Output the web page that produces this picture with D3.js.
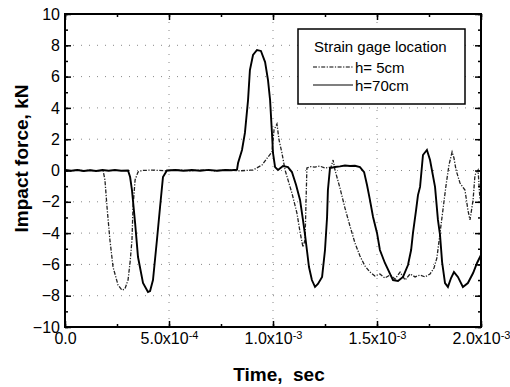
<!DOCTYPE html>
<html>
<head>
<meta charset="utf-8">
<script src="https://cdn.jsdelivr.net/npm/d3@7/dist/d3.min.js"></script>
<style>
  body { margin: 0; background: #fff; }
  text { font-family: "Liberation Sans", Arial, sans-serif; fill: #000; }
</style>
</head>
<body>
<svg id="chart" width="510" height="387"></svg>
<script>
// h = 5 cm gauge (dash-dot)
var timeH5 = [0, 3.0e-5, 6.0e-5, 9.0e-5, 1.2e-4, 1.5e-4, 1.83e-4, 1.92e-4, 2.02e-4, 2.16e-4, 2.31e-4, 2.55e-4,
  2.74e-4, 2.88e-4, 3.03e-4, 3.13e-4, 3.22e-4, 3.27e-4, 3.37e-4, 3.51e-4, 3.70e-4, 4.2e-4, 4.8e-4, 5.4e-4,
  6.0e-4, 6.6e-4, 7.2e-4, 7.8e-4, 8.4e-4, 8.9e-4, 9.04e-4, 9.47e-4, 9.76e-4, 9.95e-4, 1.005e-3, 1.019e-3,
  1.029e-3, 1.043e-3, 1.058e-3, 1.072e-3, 1.091e-3, 1.115e-3, 1.130e-3, 1.144e-3, 1.154e-3, 1.159e-3,
  1.163e-3, 1.182e-3, 1.202e-3, 1.225e-3, 1.25e-3, 1.279e-3, 1.289e-3, 1.298e-3, 1.322e-3, 1.346e-3,
  1.370e-3, 1.394e-3, 1.418e-3, 1.442e-3, 1.466e-3, 1.49e-3, 1.514e-3, 1.538e-3, 1.563e-3, 1.587e-3,
  1.611e-3, 1.635e-3, 1.659e-3, 1.683e-3, 1.707e-3, 1.731e-3, 1.755e-3, 1.774e-3, 1.788e-3, 1.803e-3,
  1.817e-3, 1.832e-3, 1.846e-3, 1.861e-3, 1.870e-3, 1.880e-3, 1.899e-3, 1.923e-3, 1.937e-3, 1.947e-3,
  1.962e-3, 1.971e-3, 1.986e-3, 1.995e-3];
var forceH5 = [0.02, -0.02, 0.03, -0.02, 0.02, -0.02, 0, -0.6, -2.33, -4.44, -6.17, -7.32,
  -7.64, -7.57, -7.0, -5.85, -4.44, -2.33, -0.6, -0.1, 0, 0.03, -0.02, 0.03,
  -0.02, 0.03, -0.02, 0.03, -0.02, 0.02, 0.03, 0.35, 0.86, 1.18, 2.6, 2.97,
  1.95, 1.12, 0.03, -0.6, -1.44, -2.72, -3.93, -4.89, -4.44, -1.89,
  0.16, 0.25, 0.22, 0.28, 0.16, 0.22, 0.67, 0.03, -1.12, -2.4,
  -3.55, -4.63, -5.46, -6.1, -6.49, -6.74, -6.61, -6.87, -6.68, -6.93,
  -6.49, -7.0, -6.61, -6.8, -6.68, -6.8, -6.61, -6.23, -5.59, -3.99,
  -2.52, -0.93, 0.35, 1.18, 0.8, 0.03, -0.8, -1.25, -2.52, -3.16,
  -1.88, -0.29, 0.03, -1.88];

// h = 70 cm gauge (solid)
var timeH70 = [0, 3.0e-5, 6.0e-5, 9.0e-5, 1.2e-4, 1.5e-4, 1.8e-4, 2.1e-4, 2.4e-4, 2.7e-4, 3.03e-4, 3.13e-4,
  3.22e-4, 3.37e-4, 3.51e-4, 3.75e-4, 3.99e-4, 4.09e-4, 4.23e-4, 4.42e-4, 4.57e-4, 4.71e-4, 4.90e-4,
  5.3e-4, 5.7e-4, 6.1e-4, 6.5e-4, 6.9e-4, 7.3e-4, 7.7e-4, 8.0e-4, 8.27e-4, 8.32e-4, 8.51e-4, 8.65e-4,
  8.80e-4, 8.89e-4, 9.04e-4, 9.23e-4, 9.42e-4, 9.62e-4, 9.76e-4, 9.86e-4, 9.95e-4, 1.0e-3, 1.01e-3,
  1.024e-3, 1.048e-3, 1.072e-3, 1.091e-3, 1.111e-3, 1.130e-3, 1.144e-3, 1.154e-3, 1.163e-3, 1.173e-3,
  1.187e-3, 1.202e-3, 1.216e-3, 1.236e-3, 1.25e-3, 1.26e-3, 1.264e-3, 1.274e-3, 1.298e-3, 1.322e-3,
  1.346e-3, 1.370e-3, 1.394e-3, 1.418e-3, 1.438e-3, 1.452e-3, 1.466e-3, 1.481e-3, 1.50e-3, 1.514e-3,
  1.538e-3, 1.577e-3, 1.601e-3, 1.625e-3, 1.649e-3, 1.664e-3, 1.673e-3, 1.688e-3, 1.697e-3, 1.707e-3,
  1.721e-3, 1.740e-3, 1.755e-3, 1.779e-3, 1.793e-3, 1.803e-3, 1.813e-3, 1.827e-3, 1.841e-3, 1.856e-3,
  1.870e-3, 1.889e-3, 1.913e-3, 1.937e-3, 1.962e-3, 1.981e-3, 2.0e-3];
var forceH70 = [0.03, -0.02, 0.03, -0.03, 0.02, -0.03, 0.03, -0.02, 0.03, -0.02, 0, -0.42,
  -1.25, -3.35, -5.53, -7.19, -7.76, -7.7, -7.0, -4.44, -2.33, -0.42, 0,
  0.03, -0.02, 0.03, -0.02, 0.04, -0.02, 0.03, 0.02, 0.05, 0.48, 1.31, 2.4,
  4.5, 6.42, 7.38, 7.7, 7.64, 6.93, 5.78, 4.5, 2.4, 1.12, 0.22,
  0.03, 0.29, 0.22, -0.1, -0.93, -1.88, -3.16, -4.12, -5.08, -6.17,
  -7.0, -7.44, -7.25, -6.8, -5.08, -2.97, -1.25, 0.16, 0.22, 0.26,
  0.32, 0.29, 0.3, 0.22, -0.1, -0.93, -1.88, -2.97, -3.99, -5.08,
  -5.91, -7.0, -7.06, -6.8, -6.04, -5.08, -3.99, -2.52, -1.57, -1.05,
  0.99, 1.31, 0.67, -1.05, -3.16, -4.12, -5.85, -7.19, -7.44, -6.87,
  -6.49, -6.8, -7.44, -7.19, -6.55, -5.91, -5.4];

var xMajor = [0, 5e-4, 1e-3, 1.5e-3, 2e-3];
var xMantissa = ["0.0", "5.0", "1.0", "1.5", "2.0"];
var xExponent = ["", "-4", "-3", "-3", "-3"];
var yMajor = [-10, -8, -6, -4, -2, 0, 2, 4, 6, 8, 10];

var legendNames = ["h= 5cm", "h=70cm"];

var svg = d3.select("#chart");
var pL = 65, pR = 481, pT = 14, pB = 327;

var x = d3.scaleLinear().domain([0, 2e-3]).range([pL, pR]);
var y = d3.scaleLinear().domain([-10, 10]).range([pB, pT]);

// dotted grid
var grid = svg.append("g");
grid.selectAll("line.gx").data(xMajor.slice(1, -1)).enter().append("line")
  .attr("x1", d => x(d)).attr("x2", d => x(d)).attr("y1", pT).attr("y2", pB)
  .attr("stroke", "#888").attr("stroke-width", 1).attr("stroke-dasharray", "1,7");
grid.selectAll("line.gy").data(yMajor.slice(1, -1)).enter().append("line")
  .attr("y1", d => y(d)).attr("y2", d => y(d)).attr("x1", pL).attr("x2", pR)
  .attr("stroke", "#888").attr("stroke-width", 1).attr("stroke-dasharray", "1,7");

// data lines
var line = d3.line().x(d => x(d[0])).y(d => y(d[1]));
svg.append("path")
  .datum(d3.zip(timeH5, forceH5))
  .attr("d", line).attr("fill", "none")
  .attr("stroke", "#222").attr("stroke-width", 1.3)
  .attr("stroke-dasharray", "4,1.5,1.2,1.5");
svg.append("path")
  .datum(d3.zip(timeH70, forceH70))
  .attr("d", line).attr("fill", "none")
  .attr("stroke", "#000").attr("stroke-width", 1.9);

// axes with inward ticks
function styleAxis(g) {
  g.select(".domain").remove();
  g.selectAll("line").attr("stroke", "#000").attr("stroke-width", 1.5);
}
var xMinor = d3.range(0, 2.0001e-3, 2.5e-4);
var yMinor = d3.range(-10, 10.001, 1);

svg.append("g").attr("transform", "translate(0," + pB + ")")
  .call(d3.axisBottom(x).tickValues(xMinor).tickSize(-3).tickFormat("")).call(styleAxis);
svg.append("g").attr("transform", "translate(0," + pT + ")")
  .call(d3.axisTop(x).tickValues(xMinor).tickSize(-3).tickFormat("")).call(styleAxis);
svg.append("g").attr("transform", "translate(" + pL + ",0)")
  .call(d3.axisLeft(y).tickValues(yMinor).tickSize(-3).tickFormat("")).call(styleAxis);
svg.append("g").attr("transform", "translate(" + pR + ",0)")
  .call(d3.axisRight(y).tickValues(yMinor).tickSize(-3).tickFormat("")).call(styleAxis);

var xAxis = svg.append("g").attr("transform", "translate(0," + pB + ")")
  .call(d3.axisBottom(x).tickValues(xMajor).tickSizeInner(-6).tickSizeOuter(0).tickPadding(6)
    .tickFormat((d, i) => xMantissa[i]))
  .call(styleAxis);
xAxis.selectAll("text")
  .attr("font-size", 16).attr("font-family", "Liberation Sans, Arial, sans-serif")
  .each(function (d, i) {
    if (!xExponent[i]) return;
    var t = d3.select(this);
    t.text(xMantissa[i] + "x10");
    t.append("tspan").attr("dy", "-0.45em").attr("font-size", 11).text(xExponent[i]);
  });

svg.append("g").attr("transform", "translate(0," + pT + ")")
  .call(d3.axisTop(x).tickValues(xMajor).tickSizeInner(-6).tickSizeOuter(0).tickFormat(""))
  .call(styleAxis);

var yAxis = svg.append("g").attr("transform", "translate(" + pL + ",0)")
  .call(d3.axisLeft(y).tickValues(yMajor).tickSizeInner(-6).tickSizeOuter(0).tickPadding(5)
    .tickFormat(d3.format("d")))
  .call(styleAxis);
yAxis.selectAll("text").attr("font-size", 16).attr("font-family", "Liberation Sans, Arial, sans-serif");

svg.append("g").attr("transform", "translate(" + pR + ",0)")
  .call(d3.axisRight(y).tickValues(yMajor).tickSizeInner(-6).tickSizeOuter(0).tickFormat(""))
  .call(styleAxis);

// frame
svg.append("rect")
  .attr("x", pL).attr("y", pT).attr("width", pR - pL).attr("height", pB - pT)
  .attr("fill", "none").attr("stroke", "#000").attr("stroke-width", 2);

// axis titles
svg.append("text")
  .attr("x", (pL + pR) / 2 + 6).attr("y", 381)
  .attr("text-anchor", "middle").attr("font-size", 19).attr("font-weight", "bold")
  .attr("xml:space", "preserve")
  .text("Time,  sec");
svg.append("text")
  .attr("transform", "translate(28," + (y(0) - 12) + ") rotate(-90)")
  .attr("text-anchor", "middle").attr("font-size", 19).attr("font-weight", "bold")
  .text("Impact force, kN");

// legend
var lg = svg.append("g");
lg.append("rect").attr("x", 298).attr("y", 29).attr("width", 167).attr("height", 75)
  .attr("fill", "#fff").attr("stroke", "#000").attr("stroke-width", 1.5);
lg.append("text").attr("x", 314).attr("y", 52).attr("font-size", 15).text("Strain gage location");
var dashes = ["4,1.5,1.2,1.5", null];
legendNames.forEach(function (name, i) {
  var ly = 67 + i * 18;
  lg.append("line").attr("x1", 313).attr("x2", 353).attr("y1", ly).attr("y2", ly)
    .attr("stroke", "#000").attr("stroke-width", 1.2)
    .attr("stroke-dasharray", dashes[i]);
  lg.append("text").attr("x", 355).attr("y", ly + 5.5).attr("font-size", 15).text(name);
});
</script>
</body>
</html>
